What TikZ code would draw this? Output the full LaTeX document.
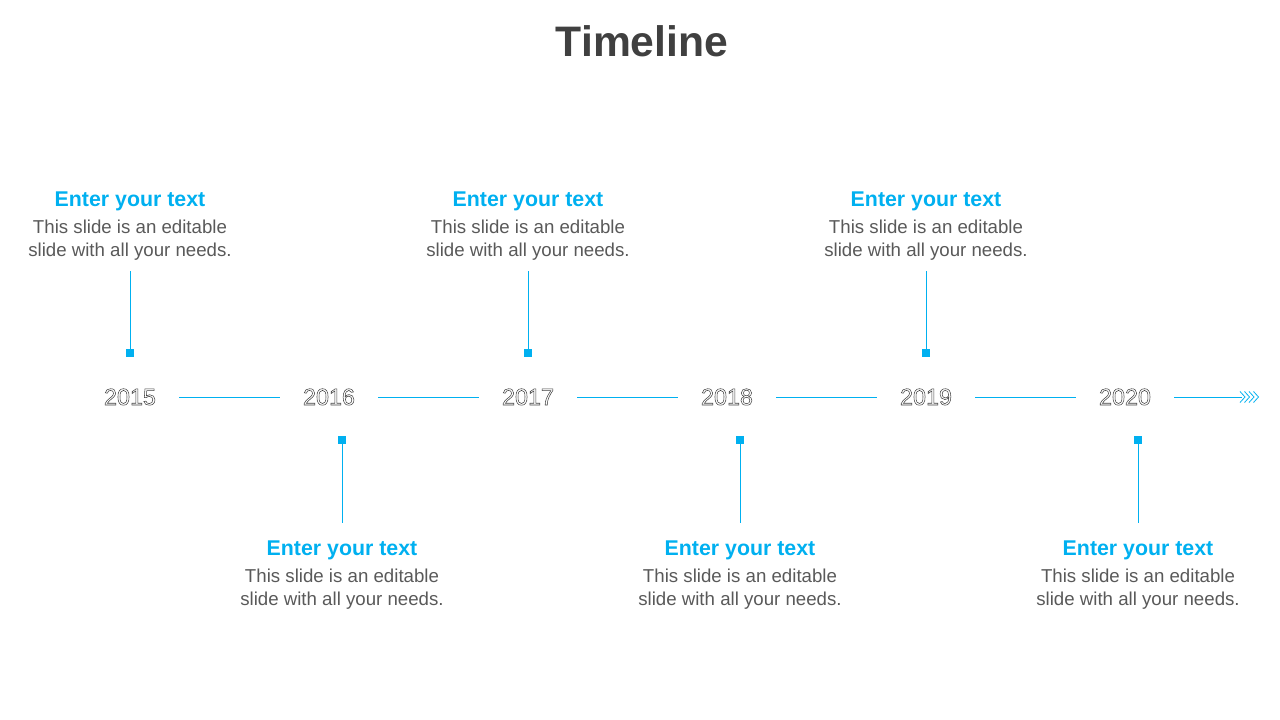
\documentclass[tikz,border=0pt]{standalone}
\usepackage{fontspec}
\setmainfont{Liberation Sans}
\definecolor{tblue}{HTML}{00B0F0}
\definecolor{tgray}{HTML}{595959}
\definecolor{ttitle}{HTML}{404040}
\definecolor{yline}{HTML}{404040}
\newcommand{\outlinetxt}[1]{\special{pdf:literal direct 1 Tr 0.4 w}#1\special{pdf:literal direct 0 Tr}}
\tikzset{
  heading/.style={font=\fontsize{16}{19}\selectfont\bfseries, text=tblue, inner sep=0pt},
  body/.style={font=\fontsize{14}{17.25}\selectfont, text=tgray, align=center, inner sep=0pt},
  year/.style={font=\fontsize{17.5}{20}\selectfont, text=yline, minimum width=73.5pt, inner sep=0pt},
  marker/.style={fill=tblue, minimum size=6pt, inner sep=0pt},
  stem/.style={draw=tblue, line width=0.75pt},
  axis/.style={draw=tblue, line width=0.6pt},
}
\begin{document}
\begin{tikzpicture}[x=0.75pt, y=-0.75pt]
\useasboundingbox (0,0) rectangle (1280,720);
\node[font=\fontsize{32}{38}\selectfont\bfseries, text=ttitle, anchor=base] (title) at (642,57) {Timeline};

% years
\foreach \yr/\xx in {2015/130, 2016/329, 2017/528, 2018/727, 2019/926, 2020/1125}{
  \node[year, anchor=base] (y\yr) at (\xx,405) {\color{yline}\outlinetxt{\yr}};
}
\draw[axis] (y2015.east |- 0,397) -- (y2016.west |- 0,397);
\draw[axis] (y2016.east |- 0,397) -- (y2017.west |- 0,397);
\draw[axis] (y2017.east |- 0,397) -- (y2018.west |- 0,397);
\draw[axis] (y2018.east |- 0,397) -- (y2019.west |- 0,397);
\draw[axis] (y2019.east |- 0,397) -- (y2020.west |- 0,397);
\coordinate (arrowend) at (1242,397);
\draw[axis] (y2020.east |- 0,397) -- (arrowend);
\foreach \tx in {1245,1249.5,1254,1258.5}{
  \draw[draw=tblue, line width=0.6pt] (\tx-5,391.5) -- (\tx,397) -- (\tx-5,402.5);
}

% top items
\foreach \xx/\nm in {130/a, 528/c, 926/e}{
  \node[heading, anchor=base] (h\nm) at (\xx,207) {Enter your text};
  \node[body] (b\nm) at (\xx,240) {This slide is an editable\\slide with all your needs.};
  \node[marker] (m\nm) at (\xx,353) {};
  \coordinate (c\nm) at (\xx,271);
  \draw[stem] (c\nm) -- (m\nm);
}
% bottom items
\foreach \xx/\nm in {342/b, 740/d, 1138/f}{
  \node[heading, anchor=base] (h\nm) at (\xx,555) {Enter your text};
  \node[body] (b\nm) at (\xx,589) {This slide is an editable\\slide with all your needs.};
  \node[marker] (m\nm) at (\xx,440) {};
  \coordinate (c\nm) at (\xx,523);
  \draw[stem] (m\nm) -- (c\nm);
}
\end{tikzpicture}
\end{document}
